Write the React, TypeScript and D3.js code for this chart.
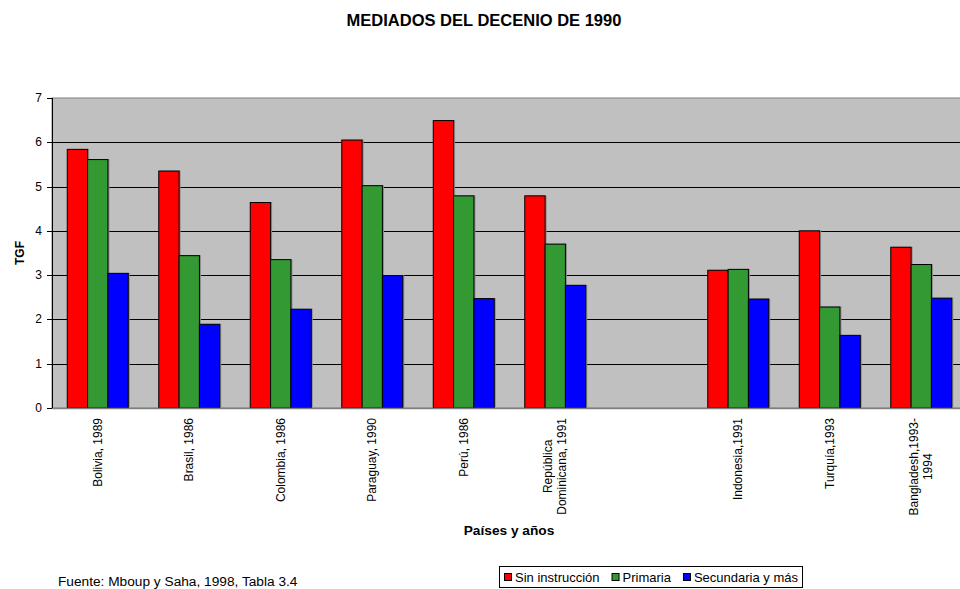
import * as d3 from "d3"
import React, { useEffect, useRef } from "react"

const categories = [
  "Bolivia, 1989",
  "Brasil, 1986",
  "Colombia, 1986",
  "Paraguay, 1990",
  "Perú, 1986",
  "República\nDominicana, 1991",
  "",
  "Indonesia,1991",
  "Turquía,1993",
  "Bangladesh,1993-\n1994",
]
const series = ["Sin instrucción", "Primaria", "Secundaria y más"]
const sinInstruccion = [5.84, 5.35, 4.64, 6.05, 6.49, 4.79, null, 3.11, 4.0, 3.63]
const primaria = [5.61, 3.44, 3.35, 5.02, 4.79, 3.7, null, 3.13, 2.28, 3.24]
const secundaria = [3.04, 1.89, 2.23, 2.99, 2.47, 2.77, null, 2.46, 1.64, 2.48]
const yTicks = [0, 1, 2, 3, 4, 5, 6, 7]
const colors = ["#FF0000", "#339933", "#0000FF"]

const FONT = "Arial, 'Liberation Sans', sans-serif"

export default function App() {
  const ref = useRef<SVGSVGElement>(null)

  useEffect(() => {
    const svg = d3.select(ref.current)
    svg.selectAll("*").remove()

    const left = 52, top = 98, bottom = 408, right = 967
    const values = [sinInstruccion, primaria, secundaria]

    const x = d3.scaleBand().domain(categories.map((c, i) => String(i)))
      .range([left, right]).paddingInner(0).paddingOuter(0)
    // gap width 150%: 0.75 of a bar on each side of the group
    const inner = d3.scaleBand().domain(series).range([0, x.bandwidth()])
      .paddingInner(0).paddingOuter(0.75)
    const y = d3.scaleLinear().domain([0, 7]).range([bottom, top])

    // plot background
    svg.append("rect")
      .attr("x", left).attr("y", top)
      .attr("width", right - left).attr("height", bottom - top)
      .attr("fill", "#C0C0C0").attr("stroke", "#808080").attr("stroke-width", 1)

    // gridlines
    svg.append("g").selectAll("line")
      .data(yTicks.filter(t => t > 0 && t < 7))
      .join("line")
      .attr("x1", left).attr("x2", right)
      .attr("y1", d => Math.round(y(d)) + 0.5).attr("y2", d => Math.round(y(d)) + 0.5)
      .attr("stroke", "#000").attr("stroke-width", 1)

    // bars
    series.forEach((s, si) => {
      const g = svg.append("g")
      const data = values[si].map((v, i) => ({ v, i })).filter(d => d.v != null) as { v: number, i: number }[]
      // little drop shadow like the original
      g.selectAll("rect.sh").data(data).join("rect")
        .attr("class", "sh")
        .attr("x", d => x(String(d.i))! + inner(s)! + 1.5)
        .attr("y", d => y(d.v) - 0.5)
        .attr("width", inner.bandwidth())
        .attr("height", d => bottom - y(d.v))
        .attr("fill", "#8a8a8a")
      g.selectAll("rect.bar").data(data).join("rect")
        .attr("class", "bar")
        .attr("x", d => x(String(d.i))! + inner(s)!)
        .attr("y", d => y(d.v))
        .attr("width", inner.bandwidth())
        .attr("height", d => bottom - y(d.v))
        .attr("fill", colors[si]).attr("stroke", "#000").attr("stroke-width", 1)
    })

    // axes
    svg.append("line").attr("x1", left).attr("x2", right)
      .attr("y1", bottom + 0.5).attr("y2", bottom + 0.5)
      .attr("stroke", "#808080").attr("stroke-width", 1.5)
    svg.append("line").attr("x1", left + 0.5).attr("x2", left + 0.5)
      .attr("y1", top).attr("y2", bottom)
      .attr("stroke", "#000").attr("stroke-width", 1)

    const yAxis = svg.append("g")
    yAxis.selectAll("line").data(yTicks).join("line")
      .attr("x1", left - 5).attr("x2", left)
      .attr("y1", d => Math.round(y(d)) + 0.5).attr("y2", d => Math.round(y(d)) + 0.5)
      .attr("stroke", "#000")
    yAxis.selectAll("text").data(yTicks).join("text")
      .attr("x", left - 10).attr("y", d => y(d) + 4)
      .attr("text-anchor", "end")
      .style("font-family", FONT).style("font-size", "12px")
      .text(d => d)

    // category labels, rotated, top aligned just under the axis
    categories.forEach((c, i) => {
      if (!c) return
      const lines = c.split("\n")
      const cx = x(String(i))! + x.bandwidth() / 2
      const t = svg.append("text")
        .attr("transform", `translate(${cx},418) rotate(-90)`)
        .attr("text-anchor", "middle")
        .style("font-family", FONT).style("font-size", "12px")
      const spans = lines.map((l, li) =>
        t.append("tspan")
          .attr("x", 0)
          .attr("y", (li - (lines.length - 1) / 2) * 14 + 4)
          .text(l))
      const maxLen = d3.max(spans, s => (s.node() as SVGTextContentElement).getComputedTextLength()) || 0
      spans.forEach(s => s.attr("x", -maxLen / 2))
    })

    // titles
    svg.append("text")
      .attr("x", 484).attr("y", 26)
      .attr("text-anchor", "middle")
      .style("font-family", FONT).style("font-size", "16.5px").style("font-weight", "bold")
      .text("MEDIADOS DEL DECENIO DE 1990")

    svg.append("text")
      .attr("transform", `translate(23.5,253) rotate(-90)`)
      .attr("text-anchor", "middle")
      .style("font-family", FONT).style("font-size", "12px").style("font-weight", "bold")
      .text("TGF")

    svg.append("text")
      .attr("x", 509).attr("y", 535)
      .attr("text-anchor", "middle")
      .style("font-family", FONT).style("font-size", "13.7px").style("font-weight", "bold")
      .text("Países y años")

    svg.append("text")
      .attr("x", 58).attr("y", 586)
      .style("font-family", FONT).style("font-size", "13.7px")
      .text("Fuente: Mboup y Saha, 1998, Tabla 3.4")

    // legend
    const lg = svg.append("g")
    const lx = 499, ly = 566
    const box = lg.append("rect").attr("x", lx + 0.5).attr("y", ly + 0.5)
      .attr("height", 21)
      .attr("fill", "#fff").attr("stroke", "#000")
    let cur = lx + 5
    let end = cur
    series.forEach((s, si) => {
      lg.append("rect").attr("x", cur + 0.5).attr("y", ly + 7.5)
        .attr("width", 7).attr("height", 7)
        .attr("fill", colors[si]).attr("stroke", "#000")
      const t = lg.append("text").attr("x", cur + 11).attr("y", ly + 15.5)
        .style("font-family", FONT).style("font-size", "13px")
        .text(s)
      end = cur + 11 + (t.node() as SVGTextContentElement).getComputedTextLength()
      cur = end + 12
    })
    box.attr("width", end - lx + 4)
  }, [])

  return (
    <div style={{ position: "absolute", left: 0, top: 0 }}>
      <svg ref={ref} width={960} height={589} style={{ display: "block", background: "#fff" }} />
    </div>
  )
}
